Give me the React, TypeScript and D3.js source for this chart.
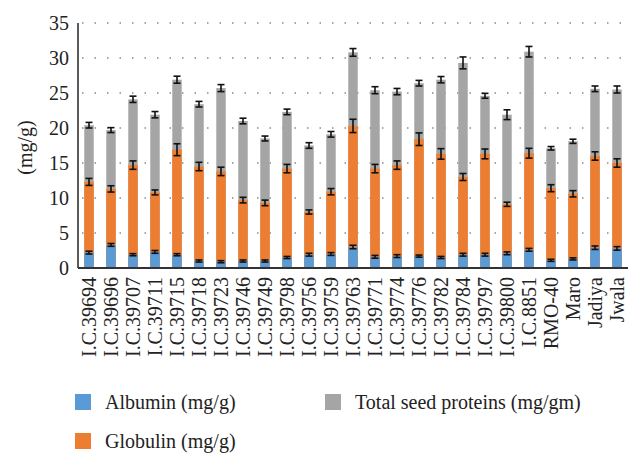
import React, { useRef, useEffect } from "react";
import * as d3 from "d3";

const categories = [
  "I.C.39694", "I.C.39696", "I.C.39707", "I.C.39711", "I.C.39715", "I.C.39718",
  "I.C.39723", "I.C.39746", "I.C.39749", "I.C.39798", "I.C.39756", "I.C.39759",
  "I.C.39763", "I.C.39771", "I.C.39774", "I.C.39776", "I.C.39782", "I.C.39784",
  "I.C.39797", "I.C.39800", "I.C.8851", "RMO-40", "Maro", "Jadiya", "Jwala",
];

const albumin = [2.2, 3.3, 1.9, 2.3, 1.9, 1.0, 0.9, 1.0, 1.0, 1.5, 1.9, 2.0, 3.0,
  1.6, 1.7, 1.7, 1.5, 1.9, 1.9, 2.1, 2.6, 1.1, 1.3, 2.9, 2.8];
const globulin = [12.3, 11.3, 14.7, 10.8, 16.9, 14.5, 13.8, 9.7, 9.3, 14.2, 8.0, 10.9, 20.3,
  14.2, 14.7, 18.4, 16.3, 13.0, 16.3, 9.1, 16.4, 11.4, 10.6, 16.0, 15.0];
const totalProtein = [20.4, 19.7, 24.1, 21.9, 26.9, 23.4, 25.7, 21.0, 18.5, 22.3, 17.5, 19.1, 30.8,
  25.4, 25.2, 26.4, 26.9, 29.3, 24.6, 21.9, 30.9, 17.1, 18.1, 25.6, 25.5];

const albuminErr = [0.2, 0.2, 0.15, 0.2, 0.15, 0.15, 0.15, 0.15, 0.15, 0.15, 0.2, 0.2, 0.25,
  0.2, 0.2, 0.15, 0.15, 0.2, 0.2, 0.2, 0.2, 0.15, 0.15, 0.25, 0.25];
const globulinErr = [0.5, 0.45, 0.6, 0.35, 0.85, 0.6, 0.6, 0.4, 0.4, 0.6, 0.3, 0.45, 0.95,
  0.6, 0.6, 0.9, 0.75, 0.5, 0.7, 0.3, 0.7, 0.5, 0.45, 0.6, 0.6];
const totalErr = [0.4, 0.35, 0.45, 0.45, 0.5, 0.4, 0.5, 0.4, 0.35, 0.4, 0.4, 0.4, 0.55,
  0.5, 0.45, 0.4, 0.45, 0.85, 0.35, 0.7, 0.75, 0.25, 0.3, 0.4, 0.5];

const yTicks = [0, 5, 10, 15, 20, 25, 30, 35];

const App = () => {
  const svgRef = useRef(null);
  const width = 642;
  const height = 460;
  const margin = { left: 78, right: 14, top: 23, bottom: 192 };

  useEffect(() => {
    document.body.style.margin = "0";
    const svg = d3.select(svgRef.current);
    svg.selectAll("*").remove();

    const x = d3.scaleBand()
      .domain(categories)
      .range([margin.left, width - margin.right])
      .paddingInner(0.57)
      .paddingOuter(0.285);

    const y = d3.scaleLinear()
      .domain([0, 35])
      .range([height - margin.bottom, margin.top]);

    const serif = "'Liberation Serif', 'Times New Roman', serif";

    // dotted gridlines
    svg.append("g")
      .selectAll("line")
      .data(yTicks.filter(d => d > 0))
      .enter()
      .append("line")
      .attr("x1", margin.left + 4)
      .attr("x2", width - margin.right)
      .attr("y1", d => y(d))
      .attr("y2", d => y(d))
      .style("stroke", "#8a8a8a")
      .style("stroke-width", 1.5)
      .style("stroke-dasharray", "1.5, 11");

    const series = [
      { values: totalProtein, err: totalErr, color: "#a5a5a5" },
      { values: globulin, err: globulinErr, color: "#ed7d31" },
      { values: albumin, err: albuminErr, color: "#5b9bd5" },
    ];

    series.forEach(s => {
      svg.append("g")
        .selectAll("rect")
        .data(s.values)
        .enter()
        .append("rect")
        .attr("x", (d, i) => x(categories[i]))
        .attr("width", x.bandwidth())
        .attr("y", d => y(d))
        .attr("height", d => y(0) - y(d))
        .style("fill", s.color);
    });

    // error bars
    const capW = 3.5;
    series.forEach(s => {
      const g = svg.append("g").style("stroke", "#111").style("stroke-width", 1.6);
      s.values.forEach((v, i) => {
        const cx = x(categories[i]) + x.bandwidth() / 2;
        const lo = y(v - s.err[i]);
        const hi = y(v + s.err[i]);
        g.append("line").attr("x1", cx).attr("x2", cx).attr("y1", lo).attr("y2", hi);
        g.append("line").attr("x1", cx - capW).attr("x2", cx + capW).attr("y1", lo).attr("y2", lo);
        g.append("line").attr("x1", cx - capW).attr("x2", cx + capW).attr("y1", hi).attr("y2", hi);
      });
    });

    // axes lines
    svg.append("line")
      .attr("x1", margin.left).attr("x2", margin.left)
      .attr("y1", margin.top).attr("y2", y(0))
      .style("stroke", "#222").style("stroke-width", 1.5);
    svg.append("line")
      .attr("x1", margin.left).attr("x2", width - margin.right)
      .attr("y1", y(0)).attr("y2", y(0))
      .style("stroke", "#333").style("stroke-width", 2);

    // y tick labels
    svg.append("g")
      .selectAll("text")
      .data(yTicks)
      .enter()
      .append("text")
      .attr("x", margin.left - 9)
      .attr("y", d => y(d))
      .attr("dy", "0.35em")
      .attr("text-anchor", "end")
      .style("font-family", serif)
      .style("font-size", "20px")
      .style("fill", "#222")
      .text(d => d);

    svg.append("text")
      .attr("transform", `translate(25, ${(margin.top + y(0)) / 2 + 2}) rotate(-90)`)
      .attr("text-anchor", "middle")
      .attr("dy", "0.35em")
      .style("font-family", serif)
      .style("font-size", "20px")
      .style("fill", "#222")
      .text("(mg/g)");

    // x labels
    svg.append("g")
      .selectAll("text")
      .data(categories)
      .enter()
      .append("text")
      .attr("transform", d => `translate(${x(d) + x.bandwidth() / 2}, ${y(0) + 9}) rotate(-90)`)
      .attr("text-anchor", "end")
      .attr("dy", "0.35em")
      .style("font-family", serif)
      .style("font-size", "20px")
      .style("fill", "#222")
      .text(d => d);

    // legend
    const legend = [
      { label: "Albumin (mg/g)", color: "#5b9bd5", lx: 75, ly: 394 },
      { label: "Total seed proteins (mg/gm)", color: "#a5a5a5", lx: 325, ly: 394 },
      { label: "Globulin (mg/g)", color: "#ed7d31", lx: 75, ly: 433 },
    ];
    const lg = svg.append("g");
    legend.forEach(l => {
      lg.append("rect")
        .attr("x", l.lx).attr("y", l.ly)
        .attr("width", 16).attr("height", 16)
        .style("fill", l.color);
      lg.append("text")
        .attr("x", l.lx + 30).attr("y", l.ly + 8)
        .attr("dy", "0.35em")
        .style("font-family", serif)
        .style("font-size", "20px")
        .style("fill", "#222")
        .text(l.label);
    });
  }, []);

  return (
    <div>
      <svg ref={svgRef} width={width} height={height} style={{ display: "block", background: "#fff" }}></svg>
    </div>
  );
};

export default App;
